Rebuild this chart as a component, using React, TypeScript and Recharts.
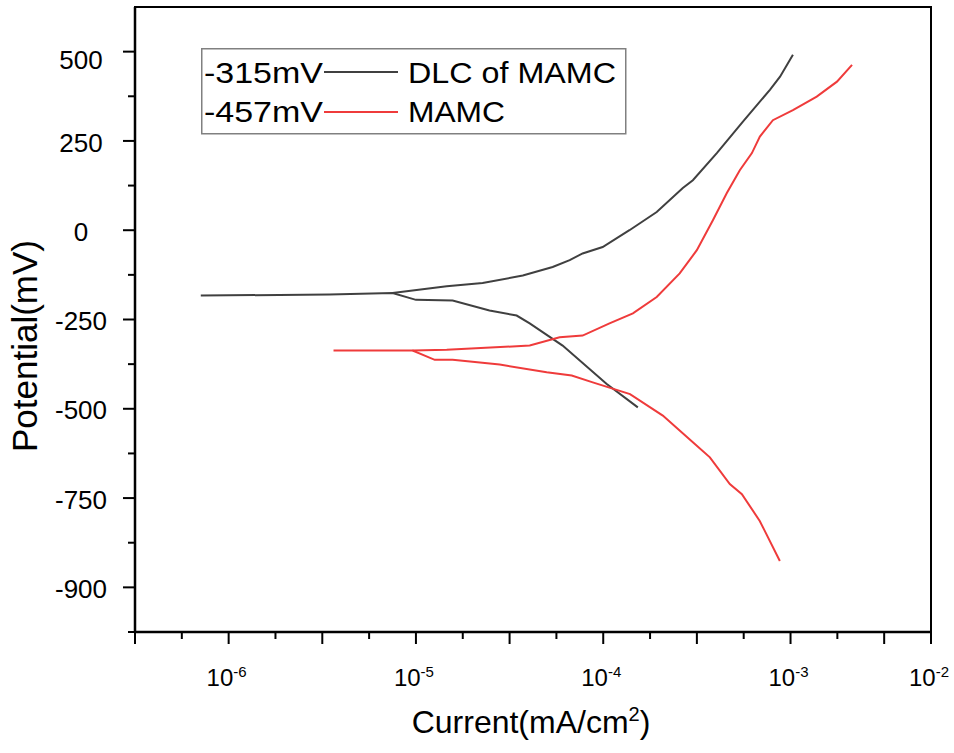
import { LineChart, Line, XAxis, YAxis, ReferenceArea, Legend } from "recharts";

// current in mA/cm2, potential in mV
const dlcCathodicCurrent = [7.1e-7, 3.45e-6, 7.5e-6, 1.0e-5, 1.57e-5, 2.47e-5, 3.45e-5, 4.05e-5, 6.07e-5, 1.04e-4, 1.53e-4];
const dlcCathodicPotential = [-183, -180, -176, -195, -197, -225, -239, -261, -323, -430, -496];
const dlcAnodicCurrent = [7.5e-6, 1.46e-5, 2.27e-5, 3.72e-5, 5.37e-5, 6.62e-5, 7.76e-5, 9.93e-5, 1.38e-4, 1.93e-4, 2.66e-4, 3.01e-4, 4.04e-4, 5.57e-4, 7.76e-4, 8.79e-4, 1.03e-3];
const dlcAnodicPotential = [-176, -157, -148, -127, -103, -84, -65, -47, 0, 51, 118, 140, 216, 304, 393, 430, 491];

const mamcCathodicCurrent = [3.63e-6, 9.6e-6, 1.26e-5, 1.57e-5, 2.8e-5, 4.99e-5, 6.79e-5, 8.79e-5, 1.39e-4, 2.08e-4, 3.01e-4, 3.71e-4, 4.74e-4, 5.5e-4, 6.85e-4, 8.77e-4];
const mamcCathodicPotential = [-337, -337, -363, -363, -376, -398, -407, -426, -459, -519, -594, -636, -711, -739, -814, -926];
const mamcAnodicCurrent = [9.6e-6, 1.46e-5, 4.05e-5, 5.85e-5, 7.76e-5, 1.08e-4, 1.44e-4, 1.93e-4, 2.56e-4, 3.16e-4, 3.85e-4, 4.57e-4, 5.36e-4, 6.22e-4, 6.86e-4, 8.05e-4, 1.03e-3, 1.38e-3, 1.77e-3, 2.13e-3];
const mamcAnodicPotential = [-337, -335, -323, -300, -295, -261, -233, -187, -121, -56, 28, 104, 168, 216, 262, 308, 336, 374, 416, 463];

const seriesNames = ["DLC of MAMC", "MAMC"];
const corrosionLabels = ["-315mV", "-457mV"];
const seriesColors = ["#404040", "#ef3b3b"];

const xTickPowers = [-6.5, -6.25, -6, -5.75, -5.5, -5.25, -5, -4.75, -4.5, -4.25, -4, -3.75, -3.5, -3.25, -3, -2.75, -2.5, -2.25];
const xTickLabels: Record<string, string> = { "-6": "-6", "-5": "-5", "-4": "-4", "-3": "-3", "-2.25": "-2" };
const yTicks = [-1125, -1000, -875, -750, -625, -500, -375, -250, -125, 0, 125, 250, 375, 500];
const yTickLabels: Record<string, string> = { "-1000": "-900", "-750": "-750", "-500": "-500", "-250": "-250", "0": "0", "250": "250", "500": "500" };

const X_MIN = 10 ** -6.5;
const X_MAX = 10 ** -2.25;
const Y_MIN = -1125;
const Y_MAX = 625;

const toRows = (cur: number[], pot: number[]) => cur.map((c, k) => ({ i: c, e: pot[k] }));

const FONT = "'Liberation Sans', Arial, sans-serif";

function XTick(props: any) {
  const { x, y, payload } = props;
  const p = Math.round(Math.log10(payload.value) * 4) / 4;
  const major = Number.isInteger(p * 2) || p === -2.25;
  const label = xTickLabels[String(p)];
  return (
    <g>
      <line x1={x} x2={x} y1={y} y2={y + (major ? 12 : 7)} stroke="#000" strokeWidth={2} />
      {label && (
        <text x={x - 2} y={y + 54} textAnchor="middle" fontSize={24} fill="#000" fontFamily={FONT}>
          10
          <tspan dy={-9} fontSize={15}>{label}</tspan>
        </text>
      )}
    </g>
  );
}

function YTick(props: any) {
  const { x, y, payload } = props;
  const v = payload.value;
  const label = yTickLabels[String(v)];
  const major = label !== undefined;
  return (
    <g>
      <line x1={x} x2={x - (major ? 12 : 7)} y1={y} y2={y} stroke="#000" strokeWidth={2} />
      {label && (
        <text x={x - 54} y={y + (v === 500 ? 8 : 1.5)} dy="0.35em" textAnchor="middle" fontSize={26} fill="#000" fontFamily={FONT}>
          {label}
        </text>
      )}
    </g>
  );
}

function XTitle() {
  return (
    <text x={531} y={733} textAnchor="middle" fontSize={32} fill="#000" fontFamily={FONT}>
      Current(mA/cm
      <tspan dy={-12} fontSize={20}>2</tspan>
      <tspan dy={12}>)</tspan>
    </text>
  );
}

function YTitle() {
  return (
    <text transform="translate(37,346) rotate(-90)" textAnchor="middle" fontSize={35} fill="#000" fontFamily={FONT}>
      Potential(mV)
    </text>
  );
}

const nameWidths = [208, 97];

function LegendBox() {
  return (
    <svg width={426} height={87} style={{ display: "block" }}>
      <rect x={0.75} y={0.75} width={424} height={85} fill="#fff" stroke="#808080" strokeWidth={1.5} />
      {seriesNames.map((name, k) => (
        <g key={name}>
          <text x={3} y={35 + k * 39} fontSize={29} fill="#000" fontFamily={FONT} textLength={119} lengthAdjust="spacingAndGlyphs">
            {corrosionLabels[k]}
          </text>
          <line x1={123} x2={197} y1={24 + k * 40} y2={24 + k * 40} stroke={seriesColors[k]} strokeWidth={2} />
          <text x={207} y={35 + k * 39} fontSize={29} fill="#000" fontFamily={FONT} textLength={nameWidths[k]} lengthAdjust="spacingAndGlyphs">
            {name}
          </text>
        </g>
      ))}
    </svg>
  );
}

export default function App() {
  return (
    <div style={{ position: "absolute", left: 0, top: 0, width: 954, height: 753, background: "#fff", fontFamily: FONT }}>
      <LineChart width={954} height={753} margin={{ top: 7, right: 23, bottom: 0, left: 0 }}>
        <XAxis
          dataKey="i"
          type="number"
          scale="log"
          domain={[X_MIN, X_MAX]}
          allowDataOverflow
          ticks={xTickPowers.map((p) => 10 ** p)}
          interval={0}
          height={121}
          tickSize={0}
          tickMargin={0}
          tickLine={false}
          axisLine={{ stroke: "#000", strokeWidth: 2.5 }}
          tick={<XTick />}
          label={<XTitle />}
        />
        <YAxis
          dataKey="e"
          type="number"
          domain={[Y_MIN, Y_MAX]}
          allowDataOverflow
          ticks={yTicks}
          interval={0}
          width={135}
          tickSize={0}
          tickMargin={0}
          tickLine={false}
          axisLine={{ stroke: "#000", strokeWidth: 2.5 }}
          tick={<YTick />}
          label={<YTitle />}
        />
        <ReferenceArea x1={X_MIN} x2={X_MAX} y1={Y_MIN} y2={Y_MAX} fill="none" stroke="#000" strokeWidth={2} />
        <Legend
          layout="vertical"
          align="center"
          verticalAlign="middle"
          wrapperStyle={{ left: 201, top: 48, width: 426, height: 87 }}
          content={() => <LegendBox />}
        />
        <Line data={toRows(dlcCathodicCurrent, dlcCathodicPotential)} dataKey="e" name={seriesNames[0]} type="linear" stroke={seriesColors[0]} strokeWidth={2} dot={false} isAnimationActive={false} />
        <Line data={toRows(dlcAnodicCurrent, dlcAnodicPotential)} dataKey="e" name={seriesNames[0] + " anodic"} legendType="none" type="linear" stroke={seriesColors[0]} strokeWidth={2} dot={false} isAnimationActive={false} />
        <Line data={toRows(mamcCathodicCurrent, mamcCathodicPotential)} dataKey="e" name={seriesNames[1]} type="linear" stroke={seriesColors[1]} strokeWidth={2} dot={false} isAnimationActive={false} />
        <Line data={toRows(mamcAnodicCurrent, mamcAnodicPotential)} dataKey="e" name={seriesNames[1] + " anodic"} legendType="none" type="linear" stroke={seriesColors[1]} strokeWidth={2} dot={false} isAnimationActive={false} />
      </LineChart>
    </div>
  );
}
